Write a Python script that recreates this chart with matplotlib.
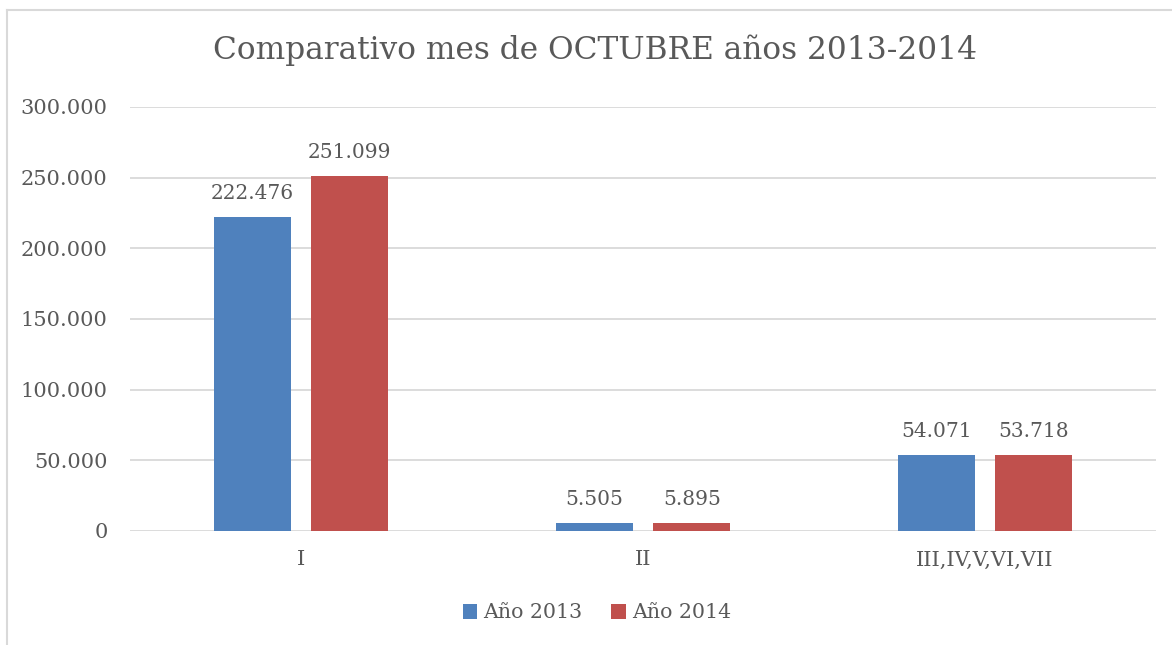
import matplotlib
matplotlib.use("Agg")
import matplotlib.pyplot as plt
from matplotlib.lines import Line2D
import numpy as np

categories = ["I", "II", "III,IV,V,VI,VII"]
series_names = ["Año 2013", "Año 2014"]
values_2013 = [222476, 5505, 54071]
values_2014 = [251099, 5895, 53718]
y_ticks = [0, 50000, 100000, 150000, 200000, 250000, 300000]
title = "Comparativo mes de OCTUBRE años 2013-2014"

colors = ["#4F81BD", "#C0504D"]
text_color = "#595959"
grid_color = "#D9D9D9"

plt.rcParams['font.family'] = ['DejaVu Serif']

def fmt(v):
    return f"{v:,}".replace(",", ".")

fig = plt.figure(figsize=(11.72, 6.45), dpi=100)
ax = fig.add_axes([130/1172, 1-531/645, 1026/1172, 424/645])

x = np.arange(len(categories))
w = 0.225
off = 0.143
for i, (vals, name) in enumerate(zip([values_2013, values_2014], series_names)):
    pos = x + (-off if i == 0 else off)
    bars = ax.bar(pos, vals, width=w, color=colors[i], label=name, zorder=3)
    for b, v in zip(bars, vals):
        ax.annotate(fmt(v), (b.get_x() + b.get_width()/2, v), xytext=(0, 10),
                    textcoords="offset points", ha="center", va="bottom",
                    fontsize=14.5, color=text_color)

ax.set_xlim(-0.5, 2.5)
ax.set_ylim(0, 300000)
ax.set_yticks(y_ticks)
ax.set_yticklabels([fmt(t) for t in y_ticks])
ax.set_xticks(x)
ax.set_xticklabels(categories)
ax.tick_params(axis='both', length=0, labelsize=15, colors=text_color)
ax.tick_params(axis='y', pad=16)
ax.tick_params(axis='x', pad=14)
for s in ax.spines.values():
    s.set_visible(False)
ax.yaxis.grid(True, color=grid_color, linewidth=1.3, zorder=0)
ax.set_axisbelow(True)

fig.text(595/1172, 1-50/645, title, ha="center", va="center",
         fontsize=22.5, color=text_color)

leg = fig.legend(loc="center", bbox_to_anchor=(597/1172, 1-613/645), ncol=2,
                 frameon=False, fontsize=14.8, handlelength=0.7, handleheight=0.7,
                 handletextpad=0.3, columnspacing=1.4)
for t in leg.get_texts():
    t.set_color(text_color)

# chart frame border (cropped)
fig.add_artist(Line2D([7/1172, 7/1172], [0, 1-10/645], transform=fig.transFigure,
                      color="#D9D9D9", linewidth=1.5))
fig.add_artist(Line2D([7/1172, 1], [1-10/645, 1-10/645], transform=fig.transFigure,
                      color="#D9D9D9", linewidth=1.5))

fig.savefig("out.png", dpi=100)
